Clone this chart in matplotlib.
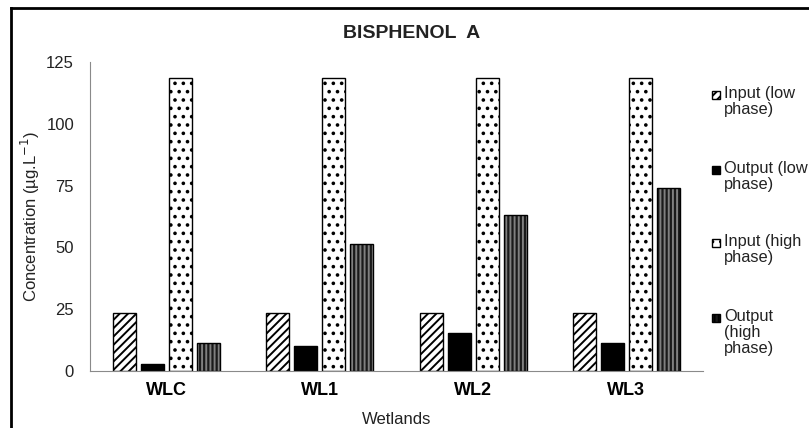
import matplotlib
matplotlib.use("Agg")
import matplotlib.pyplot as plt
from matplotlib.lines import Line2D
from matplotlib.patches import Rectangle
import numpy as np

plt.rcParams["font.family"] = ["Liberation Sans", "DejaVu Sans"]
plt.rcParams["hatch.linewidth"] = 1.4

wetlands = ["WLC", "WL1", "WL2", "WL3"]
input_low = [23.5, 23.5, 23.5, 23.5]
output_low = [2.8, 10.0, 15.5, 11.5]
input_high = [118.5, 118.5, 118.5, 118.5]
output_high = [11.3, 51.5, 63.0, 74.0]
labels = ["Input (low\nphase)", "Output (low\nphase)", "Input (high\nphase)",
          "Output\n(high\nphase)"]
yticks = [0, 25, 50, 75, 100, 125]

PITCH = 0.183
WIDTH = 0.15
W, H = 809, 428

fig = plt.figure(figsize=(W / 100, H / 100), dpi=100)
ax = fig.add_axes([90 / W, 1 - 371 / H, 613 / W, 309 / H])

x = np.arange(len(wetlands))
offsets = [-1.5, -0.5, 0.5, 1.5]

# (facecolor, hatch colour, hatch) per series
styles = [("white", "black", "////"),
          ("black", "black", None),
          ("white", "black", ".."),
          ("0.1", "0.5", "||||")]
series = [input_low, output_low, input_high, output_high]

for off, vals, (fc, hc, hatch) in zip(offsets, series, styles):
    # hatch is drawn with the edge colour, so draw the outline again on top
    ax.bar(x + off * PITCH, vals, WIDTH, color=fc, edgecolor=hc,
           hatch=hatch, linewidth=0)
    ax.bar(x + off * PITCH, vals, WIDTH, fill=False, edgecolor="black",
           linewidth=1.0)

ax.set_xlim(-0.5, 3.5)
ax.set_ylim(0, 125)
ax.set_yticks(yticks)
ax.set_xticks(x)
ax.set_xticklabels(wetlands, fontsize=13, fontweight="bold")
ax.tick_params(axis="y", length=0, pad=11.5, labelsize=12, colors="#222222")
ax.tick_params(axis="x", length=0, pad=8, colors="black")

for side in ["top", "right"]:
    ax.spines[side].set_visible(False)
ax.spines["left"].set_color("#8a8a8a")
ax.spines["bottom"].set_color("#8a8a8a")

ax.set_xlabel("Wetlands", fontsize=12, labelpad=9, color="#222222")
ax.set_ylabel("Concentration (µg.L$^{-1}$)", fontsize=12, labelpad=3,
              color="#222222")
fig.text(412 / W, 1 - 33 / H, "BISPHENOL  A", fontsize=14,
         fontweight="bold", ha="center", va="center", color="#222222")

# legend, drawn by hand so the key sits next to the first line of text
legend_y = [95, 170, 243, 318]
for (fc, hc, hatch), lab, yy in zip(styles, labels, legend_y):
    fig.add_artist(Rectangle((712 / W, 1 - (yy + 4) / H), 8 / W, 8 / H,
                             transform=fig.transFigure, facecolor=fc,
                             edgecolor="black", hatch=hatch, linewidth=1.0))
    fig.text(724 / W, 1 - (yy - 9) / H, lab, fontsize=11.8, va="top",
             ha="left", linespacing=1.1, color="#222222")

# chart-area border (only left and top visible in the crop)
fig.add_artist(Line2D([11 / W, 11 / W], [0.0, 1 - 8 / H], color="black", lw=2))
fig.add_artist(Line2D([11 / W, 1.0], [1 - 8 / H, 1 - 8 / H], color="black", lw=2))

fig.savefig("out.png", dpi=100)
